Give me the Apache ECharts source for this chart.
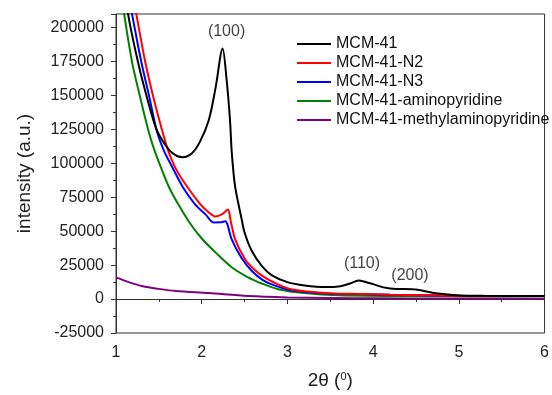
<!DOCTYPE html>
<html>
<head>
<meta charset="utf-8">
<script src="https://cdn.jsdelivr.net/npm/echarts@6/dist/echarts.min.js"></script>
<style>
  html, body {margin: 0; padding: 0; background: #fff;}
  #chart {width: 552px; height: 395px;}
</style>
</head>
<body>
<div id="chart"></div>
<script>
// 2theta / intensity readings, one pair of arrays per sample
const mcmX = [1.0, 1.142, 1.257, 1.354, 1.469, 1.56, 1.66, 1.775, 1.88, 1.98, 2.083, 2.16, 2.244, 2.29, 2.33, 2.351, 2.39, 2.467, 2.5, 2.58, 2.7, 2.82, 3.0, 3.2, 3.45, 3.62, 3.73, 3.83, 3.9, 4.0, 4.12, 4.27, 4.46, 4.58, 4.73, 4.96, 5.3, 6.0];
const mcmY = [270000, 209500, 174400, 150200, 125500, 115000, 107500, 104500, 107000, 116000, 131900, 155000, 184600, 162000, 131900, 107700, 82800, 58600, 49000, 36000, 24500, 17500, 12500, 10000, 8800, 9500, 11500, 13600, 12800, 11000, 8600, 7400, 7300, 6100, 4200, 2900, 2400, 2300];

const n2X = [1.0, 1.238, 1.342, 1.43, 1.533, 1.614, 1.69, 1.775, 1.968, 2.06, 2.16, 2.24, 2.305, 2.34, 2.39, 2.506, 2.6, 2.72, 2.85, 3.0, 3.2, 3.6, 3.85, 4.2, 5.0, 6.0];
const n2Y = [290000, 209500, 174400, 150200, 125500, 108400, 97000, 87900, 71000, 65000, 60800, 62500, 66000, 57000, 44000, 29300, 22500, 16500, 12000, 8000, 5800, 4000, 3800, 3200, 2500, 2200];

const n3X = [1.0, 1.188, 1.296, 1.384, 1.48, 1.565, 1.65, 1.775, 1.92, 2.05, 2.14, 2.22, 2.275, 2.30, 2.35, 2.467, 2.58, 2.7, 2.81, 3.0, 3.2, 3.58, 3.85, 4.2, 5.0, 6.0];
const n3Y = [270000, 209500, 174400, 150200, 123000, 108400, 98000, 83000, 70000, 62000, 56400, 56500, 57400, 55000, 44000, 30000, 21000, 14500, 11000, 7000, 5200, 3800, 3700, 3200, 2500, 2200];

const aminoX = [1.0, 1.096, 1.188, 1.276, 1.372, 1.441, 1.53, 1.622, 1.72, 1.853, 2.0, 2.16, 2.35, 2.54, 2.7, 2.89, 3.2, 3.6, 4.5, 6.0];
const aminoY = [250000, 209500, 174400, 150200, 125500, 111000, 96000, 82000, 70500, 56800, 44600, 34400, 23400, 16000, 11500, 7300, 4400, 2800, 2200, 2000];

const methylX = [1.0, 1.15, 1.31, 1.5, 1.7, 2.08, 2.54, 3.0, 3.5, 4.0, 5.0, 6.0];
const methylY = [16000, 12500, 9500, 7500, 5900, 4400, 2200, 1200, 800, 600, 400, 300];

const names = ['MCM-41', 'MCM-41-N2', 'MCM-41-N3', 'MCM-41-aminopyridine', 'MCM-41-methylaminopyridine'];
const colors = ['#000000', '#ff0000', '#0000ff', '#008000', '#800080'];

// reflection labels
const peakLabels = ['(100)', '(110)', '(200)'];
const peakX = [2.29, 3.87, 4.43];
const peakY = [197000, 26400, 17600];

const pairs = (xs, ys) => xs.map((x, i) => [x, ys[i]]);
const curves = [pairs(mcmX, mcmY), pairs(n2X, n2Y), pairs(n3X, n3Y), pairs(aminoX, aminoY), pairs(methylX, methylY)];

const font = 'Liberation Sans, Arial, sans-serif';
const chart = echarts.init(document.getElementById('chart'));

const series = curves.map((d, i) => ({
  name: names[i],
  type: 'line',
  data: d,
  showSymbol: false,
  smooth: 0.3,
  lineStyle: {width: 2, color: colors[i]},
  itemStyle: {color: colors[i]},
  z: 10 - i
}));
series.push({
  type: 'scatter',
  data: peakX.map((x, i) => [x, peakY[i], peakLabels[i]]),
  symbolSize: 0,
  label: {
    show: true,
    position: 'inside',
    formatter: p => p.data[2],
    fontFamily: font,
    fontSize: 16,
    color: '#111'
  },
  z: 20
});

chart.setOption({
  animation: false,
  color: colors,
  grid: {left: 116, right: 2, top: 14, bottom: 60, show: true, borderColor: '#333', borderWidth: 1, backgroundColor: 'transparent'},
  legend: {
    data: names,
    orient: 'vertical',
    left: 292,
    top: 31,
    itemWidth: 34,
    itemHeight: 2,
    itemGap: 3,
    icon: 'rect',
    textStyle: {fontFamily: font, fontSize: 16, color: '#111', lineHeight: 16}
  },
  xAxis: {
    type: 'value',
    min: 1,
    max: 6,
    interval: 1,
    name: '2θ ({s|0})',
    nameLocation: 'middle',
    nameGap: 38,
    nameTextStyle: {
      fontFamily: font, fontSize: 19, color: '#222',
      rich: {s: {fontFamily: font, fontSize: 11, color: '#222', verticalAlign: 'top', padding: [0, 0, 8, 0]}}
    },
    axisLine: {show: true, lineStyle: {color: '#333', width: 1}},
    axisTick: {show: true, length: 5, lineStyle: {color: '#333'}},
    minorTick: {show: true, splitNumber: 2, length: 3, lineStyle: {color: '#333'}},
    splitLine: {show: false},
    axisLabel: {fontFamily: font, fontSize: 16, color: '#222', margin: 12}
  },
  yAxis: {
    type: 'value',
    min: -25000,
    max: 210000,
    interval: 25000,
    name: 'intensity (a.u.)',
    nameLocation: 'middle',
    nameGap: 82,
    nameTextStyle: {fontFamily: font, fontSize: 19, color: '#222'},
    axisLine: {show: true, lineStyle: {color: '#333', width: 1}},
    axisTick: {show: true, length: 5, lineStyle: {color: '#333'}},
    minorTick: {show: true, splitNumber: 2, length: 3, lineStyle: {color: '#333'}},
    splitLine: {show: false},
    axisLabel: {
      fontFamily: font, fontSize: 16, color: '#222', margin: 12,
      showMaxLabel: false,
      formatter(val) {
        return val % 25000 === 0 ? String(val) : '';
      }
    }
  },
  series: series
});
</script>
</body>
</html>
